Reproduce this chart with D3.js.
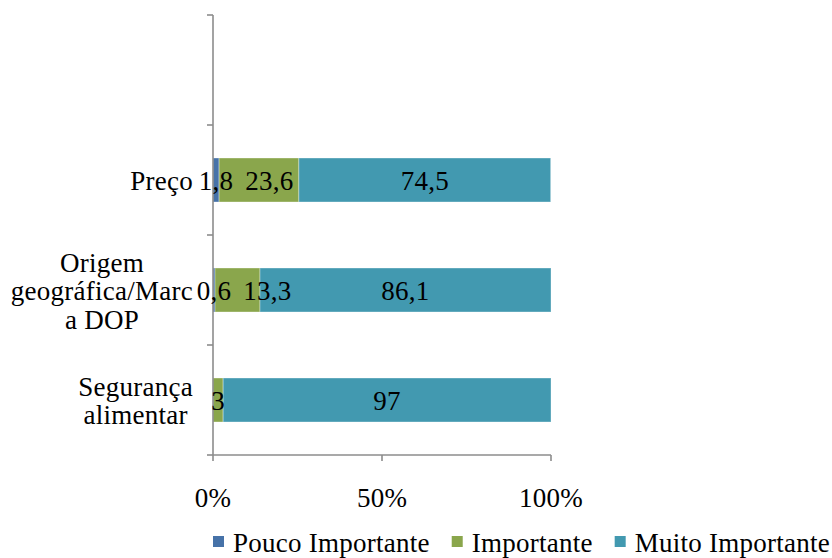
<!DOCTYPE html>
<html>
<head>
<meta charset="utf-8">
<script src="https://cdn.jsdelivr.net/npm/d3@7"></script>
<style>
  html, body { margin: 0; padding: 0; background: #ffffff; }
  svg { display: block; }
  text { font-family: "Liberation Serif", "Times New Roman", serif; font-size: 27px; fill: #000; letter-spacing: 0.25px; }
</style>
</head>
<body>
<svg id="chart" width="832" height="558"></svg>
<script>
// Importance ratings (%) per attribute
const categories = ["Preço", "Origem geográfica/Marca DOP", "Segurança alimentar"];
const categoryLines = [["Preço"], ["Origem", "geográfica/Marc", "a DOP"], ["Segurança", "alimentar"]];
const seriesNames = ["Pouco Importante", "Importante", "Muito Importante"];
const poucoImportante = [1.8, 0.6, 0];
const importante = [23.6, 13.3, 3];
const muitoImportante = [74.5, 86.1, 97];
const xTicks = [0, 50, 100];
const xTickLabels = ["0%", "50%", "100%"];
const colors = ["#4672A8", "#8AA64C", "#4299B0"];

const svg = d3.select("#chart");
const plot = { left: 213, right: 551, top: 15, bottom: 455 };

const rows = categories.map((c, i) => ({
  category: c,
  lines: categoryLines[i],
  values: [poucoImportante[i], importante[i], muitoImportante[i]]
}));

const x = d3.scaleLinear().domain([0, 100]).range([plot.left, plot.right]);
// leading blank slot keeps an empty band at the top of the axis
const y = d3.scaleBand()
  .domain(["", ...categories])
  .range([plot.top, plot.bottom])
  .paddingInner(0.6)
  .paddingOuter(0.3);
const step = y.step();
const bw = y.bandwidth();

const stack = d3.stack().keys([0, 1, 2]).value((d, k) => d.values[k]);
const layers = stack(rows);

// bars
const g = svg.append("g");
layers.forEach((layer, k) => {
  g.selectAll(null)
    .data(layer)
    .join("rect")
    .attr("x", d => x(d[0]))
    .attr("y", d => y(d.data.category))
    .attr("width", d => Math.max(0, x(d[1]) - x(d[0])))
    .attr("height", bw)
    .attr("fill", colors[k])
    .attr("stroke", "#ffffff")
    .attr("stroke-opacity", 0.35)
    .attr("stroke-width", 1)
    .style("display", d => d[1] - d[0] > 0 ? null : "none");
});

// axes
const axisColor = "#8c8c8c";
const ax = svg.append("g").attr("stroke", axisColor).attr("stroke-width", 1.6).attr("fill", "none");
ax.append("line").attr("x1", plot.left).attr("x2", plot.left).attr("y1", plot.top).attr("y2", plot.bottom);
ax.append("line").attr("x1", plot.left).attr("x2", x(100)).attr("y1", plot.bottom).attr("y2", plot.bottom);
const bandEdges = y.domain().map(c => y(c) - (step - bw) / 2).concat([plot.bottom]);
bandEdges.forEach(v => {
  ax.append("line").attr("x1", plot.left - 6).attr("x2", plot.left).attr("y1", v).attr("y2", v);
});
xTicks.forEach(t => {
  ax.append("line").attr("x1", x(t)).attr("x2", x(t)).attr("y1", plot.bottom).attr("y2", plot.bottom + 6);
});

// x tick labels
svg.append("g").selectAll("text")
  .data(xTicks)
  .join("text")
  .attr("x", d => x(d))
  .attr("y", 507)
  .attr("text-anchor", "middle")
  .text((d, i) => xTickLabels[i]);

// category labels: lines centred in a block right-aligned to the axis
const labelG = svg.append("g");
rows.forEach(r => {
  const cy = y(r.category) + bw / 2;
  const texts = r.lines.map((ln, i) =>
    labelG.append("text")
      .attr("y", cy + 10 + (i - (r.lines.length - 1) / 2) * 28.5)
      .attr("text-anchor", "middle")
      .text(ln));
  const maxW = d3.max(texts, t => t.node().getComputedTextLength());
  const centreX = plot.left - 20 - maxW / 2;
  texts.forEach(t => t.attr("x", centreX));
});

// data labels centred on each segment, pushed right when they collide
const dl = svg.append("g");
rows.forEach((r, i) => {
  let prevRight = -Infinity;
  layers.forEach(layer => {
    const d = layer[i];
    const v = d[1] - d[0];
    if (v <= 0) return;
    const t = dl.append("text")
      .attr("y", y(r.category) + bw / 2 + 9.5)
      .attr("text-anchor", "middle")
      .text(d3.format(",")(v).replace(".", ","));
    const w = t.node().getComputedTextLength();
    let cx = (x(d[0]) + x(d[1])) / 2;
    if (cx - w / 2 < prevRight + 12) cx = prevRight + 12 + w / 2;
    t.attr("x", cx);
    prevRight = cx + w / 2;
  });
});

// legend
const lg = svg.append("g");
let lx = 213;
seriesNames.forEach((name, k) => {
  lg.append("rect").attr("x", lx).attr("y", 536).attr("width", 11).attr("height", 11).attr("fill", colors[k]);
  const t = lg.append("text").attr("x", lx + 20).attr("y", 552).text(name);
  lx += 20 + t.node().getComputedTextLength() + 22;
});
</script>
</body>
</html>
